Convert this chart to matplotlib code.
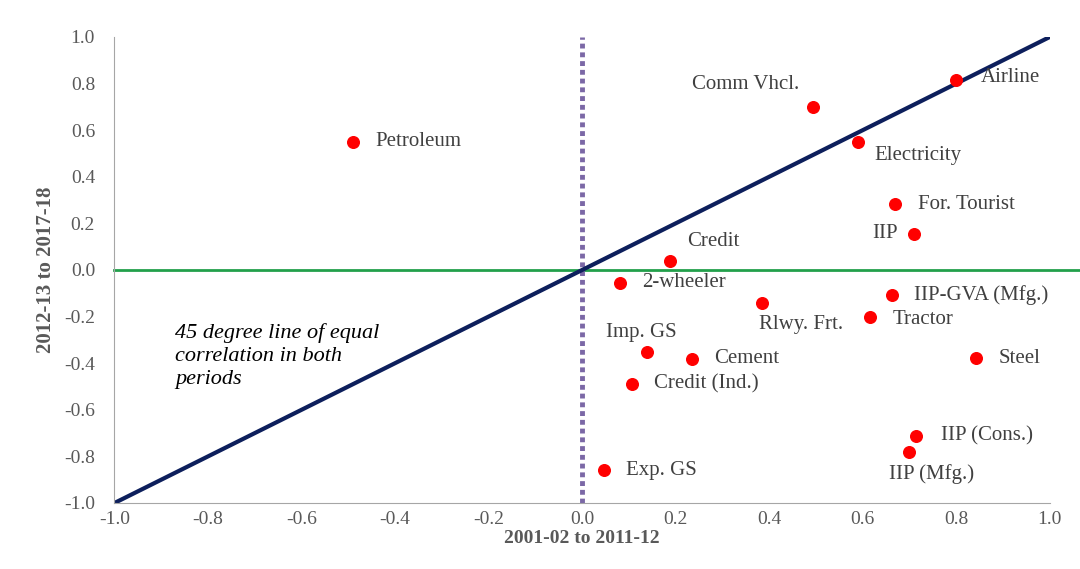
import matplotlib.pyplot as plt

names = ["Petroleum", "Comm Vhcl.", "Airline", "Electricity", "For. Tourist", "IIP",
         "Credit", "2-wheeler", "IIP-GVA (Mfg.)", "Rlwy. Frt.", "Tractor", "Imp. GS",
         "Cement", "Steel", "Credit (Ind.)", "IIP (Cons.)", "IIP (Mfg.)", "Exp. GS"]
x = [-0.49, 0.494, 0.80, 0.59, 0.67, 0.71, 0.188, 0.08, 0.663, 0.385, 0.616, 0.139,
     0.235, 0.843, 0.107, 0.714, 0.70, 0.047]
y = [0.55, 0.70, 0.815, 0.55, 0.283, 0.155, 0.04, -0.055, -0.107, -0.14, -0.20, -0.35,
     -0.38, -0.378, -0.49, -0.713, -0.78, -0.86]
# label offsets in points (dx, dy, ha)
offs = [(16, 0, "left"), (-10, 16, "right"), (18, 2, "left"), (12, -10, "left"),
        (16, 0, "left"), (-12, 0, "right"), (12, 14, "left"), (16, 0, "left"),
        (16, 0, "left"), (28, -16, "center"), (16, -2, "left"), (-4, 14, "center"),
        (16, 0, "left"), (16, 0, "left"), (16, 0, "left"), (18, 0, "left"),
        (-15, -16, "left"), (16, 0, "left")]

plt.rcParams['font.family'] = ['Liberation Serif', 'DejaVu Serif']
plt.rcParams['axes.unicode_minus'] = False
fig = plt.figure(figsize=(10.8, 5.69), dpi=100)
ax = fig.add_axes([0.106, 0.116, 0.866, 0.819])

ax.plot([-1, 1], [-1, 1], color="#0d1f5c", lw=3, zorder=2)
ax.plot([-1, 1.07], [0, 0], color="#22a04b", lw=2, clip_on=False, zorder=1)
ax.axvline(0, color="#7b68a6", lw=3.5, ls=(0, (1, 0.8)), zorder=1)
ax.scatter(x, y, s=70, color="#ff0000", zorder=3)
for n, xi, yi, (dx, dy, ha) in zip(names, x, y, offs):
    ax.annotate(n, (xi, yi), xytext=(dx, dy), textcoords="offset points",
                ha=ha, va="center", fontsize=15, color="#404040")

ax.text(-0.87, -0.37, "45 degree line of equal\ncorrelation in both\nperiods",
        fontsize=16, style="italic", va="center", linespacing=1.3)

ax.set_xlim(-1, 1)
ax.set_ylim(-1, 1)
ax.set_xticks([i / 10 for i in range(-10, 11, 2)])
ax.set_yticks([i / 10 for i in range(-10, 11, 2)])
ax.tick_params(labelsize=14, colors="#595959", length=0)
ax.tick_params(axis="y", pad=14)
ax.tick_params(axis="x", pad=6)
ax.set_xlabel("2001-02 to 2011-12", fontsize=14, fontweight="bold", color="#595959", labelpad=1)
ax.set_ylabel("2012-13 to 2017-18", fontsize=15, fontweight="bold", color="#595959", labelpad=6)
for s in ["top", "right"]:
    ax.spines[s].set_visible(False)
for s in ["left", "bottom"]:
    ax.spines[s].set_color("#a6a6a6")

fig.savefig("out.png", dpi=100)
